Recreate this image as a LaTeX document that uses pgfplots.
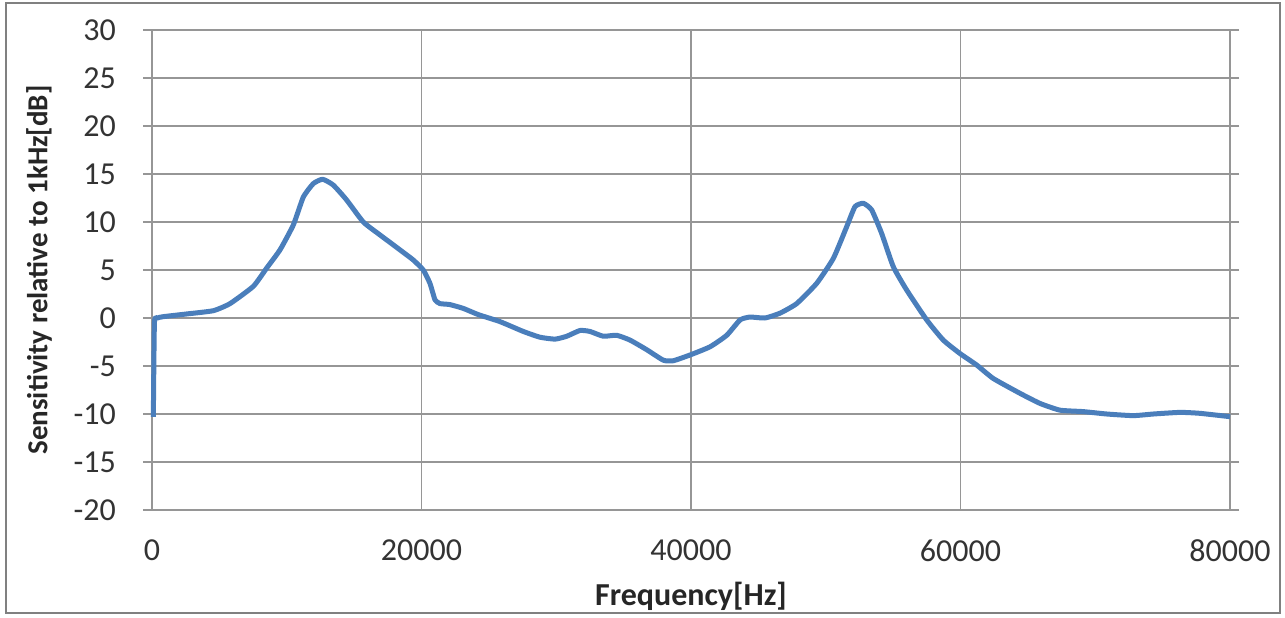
\documentclass[border=0pt]{standalone}
\usepackage{pgfplots}
\pgfplotsset{compat=1.18}
\usepackage{fontspec}
\setmainfont{Carlito}
\definecolor{exblue}{RGB}{74,126,187}
\definecolor{gridgray}{RGB}{150,150,150}
\definecolor{framegray}{RGB}{128,128,128}
\begin{document}
\begin{tikzpicture}
\begin{axis}[
  scale only axis,
  width=539pt, height=240pt,
  xmin=0, xmax=80000, ymin=-20, ymax=30,
  xtick={0,20000,40000,60000,80000},
  ytick={-20,-15,...,30},
  scaled x ticks=false,
  xticklabel style={yshift=-7pt},
  x tick label style={/pgf/number format/fixed, /pgf/number format/1000 sep={}},
  /pgf/number format/assume math mode=true,
  grid=major,
  grid style={gridgray, line width=0.75pt},
  axis line style={draw=none},
  tick style={gridgray, line width=0.75pt},
  tick align=outside,
  major tick length=4.5pt,
  xtick style={draw=none},
  ticklabel style={font=\fontsize{16}{17}\selectfont, text=black!80},
  yticklabel style={xshift=-10pt},
  xlabel={\bfseries Frequency[Hz]},
  ylabel={\bfseries Sensitivity relative to 1kHz[dB]},
  label style={font=\fontsize{14.5}{15}\selectfont\bfseries, text=black!85},
  xlabel style={yshift=-3pt, font=\fontsize{16}{17}\selectfont\bfseries},
  ylabel style={yshift=4pt},
  clip=false,
]
\addplot[exblue, line width=2.5pt, line join=round, smooth, tension=0.3] coordinates {
(100,-10.3) (180,-0.5) (400,0.0) (840,0.14) (2570,0.42) (4550,0.76)
(5790,1.5) (7520,3.3) (8510,5.2) (9500,7.1) (10490,9.7) (11230,12.6)
(11970,14.0) (12660,14.45) (13450,13.85) (14440,12.3) (15680,10.0)
(16920,8.65) (18400,7.1) (19390,6.04) (20130,5.0) (20630,3.6) (21000,1.9)
(21370,1.5) (22100,1.4) (23100,1.0) (24220,0.35) (25830,-0.38) (27550,-1.4)
(28790,-2.0) (29910,-2.2) (30780,-1.9) (31760,-1.3) (32500,-1.4) (33490,-1.9)
(34480,-1.8) (35470,-2.3) (36710,-3.3) (37950,-4.4) (38690,-4.45) (39930,-3.85)
(41410,-3.0) (42650,-1.8) (43640,-0.2) (44380,0.1) (45490,0.0) (46600,0.5)
(47840,1.5) (49320,3.6) (50560,6.2) (51550,9.5) (52170,11.6) (52790,11.95)
(53410,11.25) (54150,8.8) (55010,5.35) (56010,2.9) (57490,-0.2) (58720,-2.3)
(59960,-3.7) (61200,-4.9) (62430,-6.3) (64420,-7.85) (65900,-8.9) (67380,-9.6)
(69110,-9.75) (70850,-10.0) (72820,-10.17) (74310,-10.0) (76290,-9.83)
(77770,-9.93) (80000,-10.28)
};
\draw[framegray, line width=1.2pt] (axis description cs:-0.1354,-0.2146) rectangle (axis description cs:1.0464,1.0563);
\path (axis description cs:-0.1410,-0.2229) rectangle (axis description cs:1.0510,1.0625);
\end{axis}
\end{tikzpicture}
\end{document}
